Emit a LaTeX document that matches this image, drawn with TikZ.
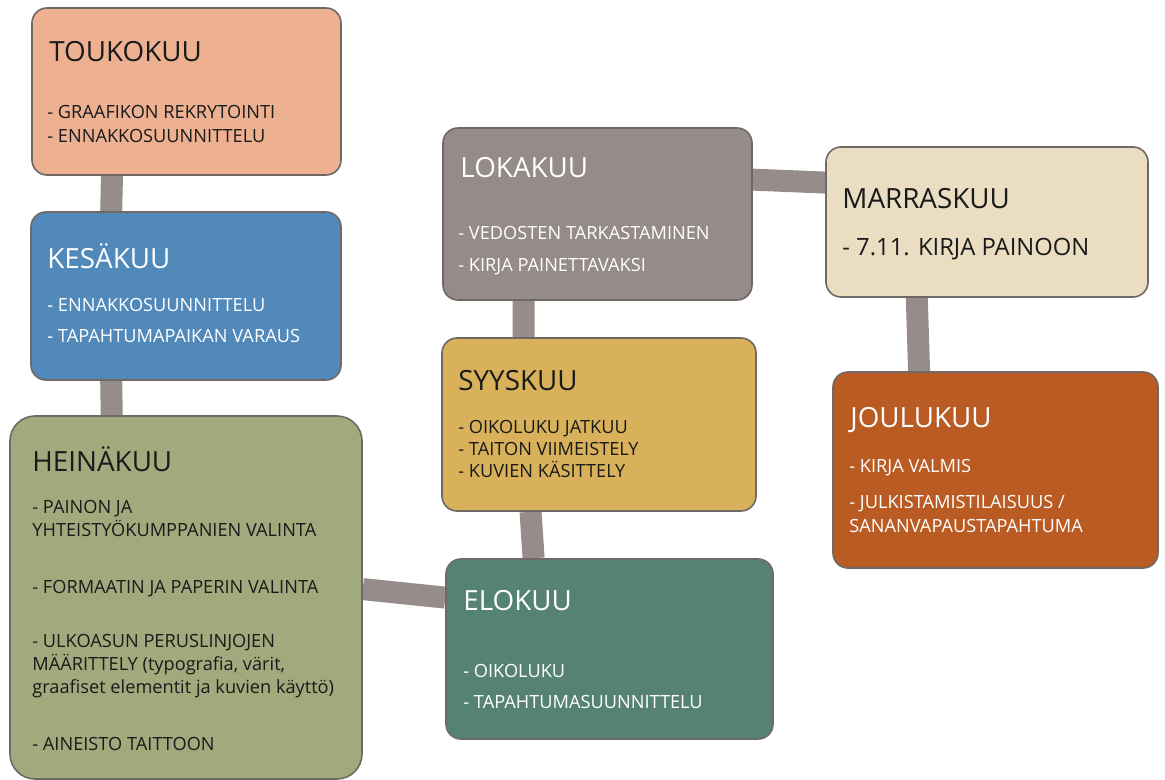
\documentclass[tikz,border=0pt]{standalone}
\usepackage{fontspec}
\setmainfont{Open Sans}
\usetikzlibrary{calc,backgrounds}

\definecolor{touko}{RGB}{237,177,145}
\definecolor{kesa}{RGB}{80,137,186}
\definecolor{heina}{RGB}{161,170,125}
\definecolor{loka}{RGB}{149,139,137}
\definecolor{marras}{RGB}{234,221,193}
\definecolor{syys}{RGB}{216,177,90}
\definecolor{joulu}{RGB}{186,91,35}
\definecolor{elo}{RGB}{86,130,117}
\definecolor{linkc}{RGB}{150,140,138}
\definecolor{edge}{RGB}{110,104,102}
\definecolor{ink}{RGB}{26,26,26}

\tikzset{
  box/.style={draw=edge, line width=0.8pt, rounded corners=7.5pt, inner sep=0pt},
  link/.style={draw=linkc, line width=11pt},
  title/.style={anchor=base west, inner sep=0pt, font=\fontsize{13.9}{16}\selectfont},
  item/.style={anchor=base west, inner sep=0pt, font=\fontsize{9.1}{11}\selectfont},
}

\begin{document}
\begin{tikzpicture}[x=0.5pt,y=-0.5pt]
\useasboundingbox (0,0) rectangle (1165,780);

% kuukausien laatikot
\node[box, fill=touko, minimum width=154.5pt, minimum height=83.5pt] (touko) at (186.5,91.5) {};
\node[box, fill=kesa, minimum width=155pt, minimum height=84pt] (kesa) at (186,296) {};
\node[box, fill=heina, rounded corners=12.5pt, minimum width=176pt, minimum height=181.5pt] (heina) at (186,597.5) {};
\node[box, fill=loka, minimum width=154.5pt, minimum height=86pt] (loka) at (597.5,214) {};
\node[box, fill=syys, minimum width=157pt, minimum height=86.5pt] (syys) at (599,424.5) {};
\node[box, fill=elo, minimum width=163.5pt, minimum height=90pt] (elo) at (609.5,649) {};
\node[box, fill=marras, minimum width=161pt, minimum height=75pt] (marras) at (987,222) {};
\node[box, fill=joulu, minimum width=162.5pt, minimum height=98pt] (joulu) at (995.5,470) {};

% tekstit
\node[title, text=ink] (touko-t) at (49,62) {TOUKOKUU};
\node[item, text=ink] (touko-1) at (47,119) {- GRAAFIKON REKRYTOINTI};
\node[item, text=ink] (touko-2) at (47,143) {- ENNAKKOSUUNNITTELU};

\node[title, text=white] (kesa-t) at (47,269) {KESÄKUU};
\node[item, text=white] (kesa-1) at (47,312) {- ENNAKKOSUUNNITTELU};
\node[item, text=white] (kesa-2) at (47,343) {- TAPAHTUMAPAIKAN VARAUS};

\node[title, text=ink] (heina-t) at (32,471) {HEINÄKUU};
\node[item, text=ink] (heina-1) at (32,513) {- PAINON JA};
\node[item, text=ink] (heina-2) at (32,536) {YHTEISTYÖKUMPPANIEN VALINTA};
\node[item, text=ink] (heina-3) at (32,593) {- FORMAATIN JA PAPERIN VALINTA};
\node[item, text=ink] (heina-4) at (32,647) {- ULKOASUN PERUSLINJOJEN};
\node[item, text=ink] (heina-5) at (32,670) {MÄÄRITTELY (typografia, värit,};
\node[item, text=ink] (heina-6) at (32,693) {graafiset elementit ja kuvien käyttö)};
\node[item, text=ink] (heina-7) at (32,750) {- AINEISTO TAITTOON};

\node[title, text=white] (loka-t) at (460,178) {LOKAKUU};
\node[item, text=white] (loka-1) at (458,240) {- VEDOSTEN TARKASTAMINEN};
\node[item, text=white] (loka-2) at (458,272) {- KIRJA PAINETTAVAKSI};

\node[title, text=ink] (syys-t) at (458,390) {SYYSKUU};
\node[item, text=ink] (syys-1) at (458,433) {- OIKOLUKU JATKUU};
\node[item, text=ink] (syys-2) at (458,455) {- TAITON VIIMEISTELY};
\node[item, text=ink] (syys-3) at (458,477) {- KUVIEN KÄSITTELY};

\node[title, text=white] (elo-t) at (463,610) {ELOKUU};
\node[item, text=white] (elo-1) at (463,677) {- OIKOLUKU};
\node[item, text=white] (elo-2) at (463,708) {- TAPAHTUMASUUNNITTELU};

\node[title, text=ink] (marras-t) at (842,209) {MARRASKUU};
\node[item, text=ink, font=\fontsize{11.9}{14}\selectfont] (marras-1) at (842,256) {- 7.11. KIRJA PAINOON};

\node[title, text=white] (joulu-t) at (850,427) {JOULUKUU};
\node[item, text=white] (joulu-1) at (849,472) {- KIRJA VALMIS};
\node[item, text=white] (joulu-2) at (849,508) {- JULKISTAMISTILAISUUS /};
\node[item, text=white] (joulu-3) at (849,532) {SANANVAPAUSTAPAHTUMA};

% yhdysviivat
\begin{scope}[on background layer]
\path[link] ($(touko.south west)!0.26!(touko.south east)$) -- ($(kesa.north west)!0.26!(kesa.north east)$);
\path[link] ($(kesa.south west)!0.26!(kesa.south east)$) -- ($(heina.north west)!0.29!(heina.north east)$);
\path[link] ($(heina.north east)!0.477!(heina.south east)$) -- ($(elo.north west)!0.217!(elo.south west)$);
\path[link] ($(syys.south west)!0.283!(syys.south east)$) -- ($(elo.north west)!0.269!(elo.north east)$);
\path[link] ($(loka.south west)!0.262!(loka.south east)$) -- ($(syys.north west)!0.261!(syys.north east)$);
\path[link] ($(loka.north east)!0.302!(loka.south east)$) -- ($(marras.north west)!0.24!(marras.south west)$);
\path[link] ($(marras.south west)!0.283!(marras.south east)$) -- ($(joulu.north west)!0.266!(joulu.north east)$);
\end{scope}
\end{tikzpicture}
\end{document}
